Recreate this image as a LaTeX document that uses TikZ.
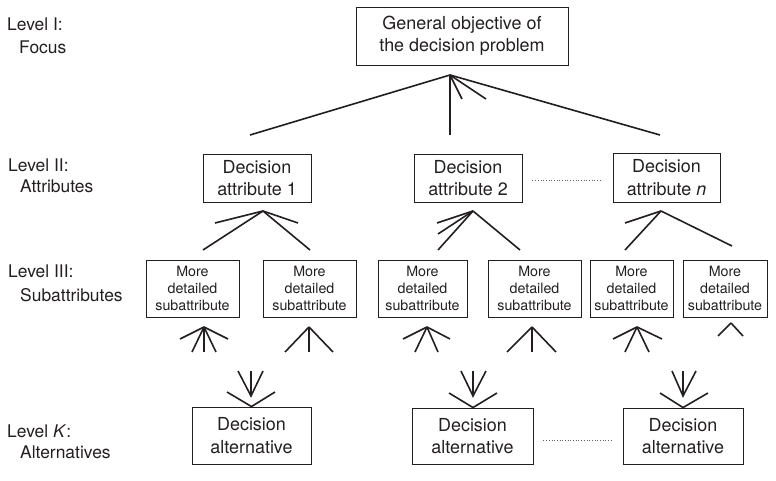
\documentclass[tikz,border=0pt]{standalone}
\usepackage{fontspec}
\setmainfont{TeX Gyre Heros}
\usetikzlibrary{calc}
\definecolor{ink}{HTML}{231F20}
\tikzset{
  box/.style={draw=ink, line width=0.9bp, inner sep=0pt, align=center, text=ink,
              font=\fontsize{18}{22.5}\selectfont},
  subbox/.style={box, minimum width=#1, minimum height=57bp,
              font=\fontsize{14.3}{16.8}\selectfont},
  lbl/.style={anchor=base west, inner sep=0pt, text=ink, font=\fontsize{17.5}{20}\selectfont},
  fan/.style={draw=ink, line width=1.6bp},
  dotline/.style={draw=ink!70, line width=0.7bp, dotted}
}
\begin{document}
\begin{tikzpicture}[x=1bp, y=-1bp]
\useasboundingbox (0,0) rectangle (776,481);

% level labels
\node[lbl] (l1a) at (7,31) {Level I:};
\node[lbl] (l1b) at (19,54) {Focus};
\node[lbl] (l2a) at (8,172) {Level II:};
\node[lbl] (l2b) at (20,193) {Attributes};
\node[lbl] (l3a) at (8,278) {Level III:};
\node[lbl] (l3b) at (20,302) {Subattributes};
\node[lbl] (lka) at (7,437) {Level \textit{K}:};
\node[lbl] (lkb) at (20,458) {Alternatives};

% level I
\node[box, minimum width=212bp, minimum height=58bp] (top) at (462,36)
  {General objective of\\the decision problem};

% level II
\node[box, minimum width=108bp, minimum height=48bp] (A1) at (257,178) {Decision\\attribute 1};
\node[box, minimum width=108bp, minimum height=48bp] (A2) at (468,178) {Decision\\attribute 2};
\node[box, minimum width=107bp, minimum height=49bp] (An) at (666.5,177.5) {Decision\\attribute \textit{n}};
\draw[dotline] ([xshift=10bp,yshift=-2bp]A2.east) -- ([xshift=-12bp,yshift=-2.5bp]An.west);

% level III
\node[subbox=93bp] (S1) at (192.5,288.5) {More\\detailed\\subattribute};
\node[subbox=93bp] (S2) at (309.5,288.5) {More\\detailed\\subattribute};
\node[subbox=89bp] (S3) at (422.5,288.5) {More\\detailed\\subattribute};
\node[subbox=93bp] (S4) at (534.5,288.5) {More\\detailed\\subattribute};
\node[subbox=83bp] (S5) at (631.5,288.5) {More\\detailed\\subattribute};
\node[subbox=84bp] (S6) at (725,288.5) {More\\detailed\\subattribute};

% level K
\node[box, minimum width=119bp, minimum height=57bp] (K1) at (251.5,435.5) {Decision\\alternative};
\node[box, minimum width=121bp, minimum height=56bp] (K2) at (472.5,436) {Decision\\alternative};
\node[box, minimum width=120bp, minimum height=56bp] (K3) at (683,436) {Decision\\alternative};
\draw[dotline] ([xshift=10bp,yshift=-4bp]K2.east) -- ([xshift=-10bp,yshift=-4bp]K3.west);

% fan below the focus
\coordinate (tf) at (450,75);
\draw[fan] (tf) -- (250,135);
\draw[fan] (tf) -- (450,135);
\draw[fan] (tf) -- (660,135);
\draw[fan] (tf) -- (462,99);
\draw[fan] (tf) -- (486,99);

% fans below the attributes
\coordinate (f1) at (263,211);
\draw[fan] (f1) -- (215,223);
\draw[fan] (f1) -- (298,223);
\draw[fan] (f1) -- (203,250);
\draw[fan] (f1) -- (310,250);

\coordinate (f2) at (473,211);
\draw[fan] (f2) -- (437,223);
\draw[fan] (f2) -- (438,234);
\draw[fan] (f2) -- (438,250);
\draw[fan] (f2) -- (520,250);

\coordinate (fn) at (661,211);
\draw[fan] (fn) -- (625,223);
\draw[fan] (fn) -- (625,250);
\draw[fan] (fn) -- (732,246);

% fans below the subattributes
\coordinate (g1) at (204,327);
\draw[fan] (g1) -- (180,339);
\draw[fan] (g1) -- (192,352);
\draw[fan] (g1) -- (204,352);
\draw[fan] (g1) -- (216,352);
\draw[fan] (g1) -- (228,339);

\coordinate (g2) at (309,327);
\draw[fan] (g2) -- (285,352);
\draw[fan] (g2) -- (309,352);
\draw[fan] (g2) -- (333,352);

\coordinate (g3) at (427,327);
\draw[fan] (g3) -- (403,339);
\draw[fan] (g3) -- (415,352);
\draw[fan] (g3) -- (438,352);
\draw[fan] (g3) -- (450,339);

\coordinate (g4) at (532,327);
\draw[fan] (g4) -- (507,352);
\draw[fan] (g4) -- (532,352);
\draw[fan] (g4) -- (556,352);

\coordinate (g5) at (637,327);
\draw[fan] (g5) -- (613,339);
\draw[fan] (g5) -- (625,352);
\draw[fan] (g5) -- (649,352);
\draw[fan] (g5) -- (662,339);

\coordinate (g6) at (731,323);
\draw[fan] (g6) -- (718,336);
\draw[fan] (g6) -- (743,336);

% converging arrows above the alternatives
\coordinate (h1) at (251,396);
\draw[fan] (238,371) -- (h1) -- (263,371);
\draw[fan] (251,371) -- (h1);
\draw[fan] (227,392) -- (K1.north) -- (275,392);

\coordinate (h2) at (473,396);
\draw[fan] (461,371) -- (h2) -- (486,371);
\draw[fan] (473,371) -- (h2);
\draw[fan] (449,393) -- ([xshift=0.5bp]K2.north) -- (497,393);

\coordinate (h3) at (683,396);
\draw[fan] (672,371) -- (h3) -- (696,371);
\draw[fan] (683,371) -- (h3);
\draw[fan] (660,393) -- (K3.north) -- (708,393);
\end{tikzpicture}
\end{document}
